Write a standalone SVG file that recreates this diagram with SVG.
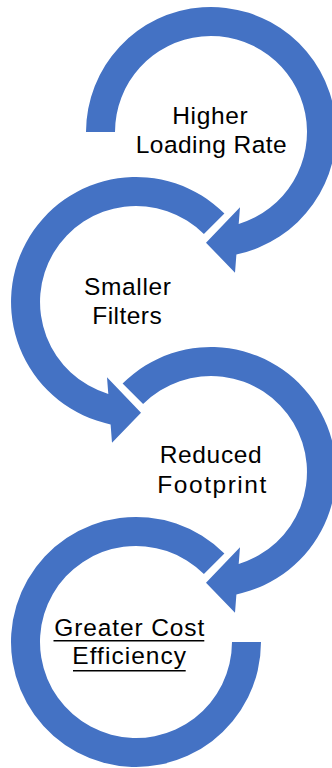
<svg xmlns="http://www.w3.org/2000/svg" width="332" height="768" viewBox="0 0 332 768">
<style>
.arrow{fill:#4472C4;stroke:none}
.lbl{font-family:"Liberation Sans",Arial,sans-serif;font-size:24.5px;fill:#000;text-anchor:middle}
.ul{stroke:#000;stroke-width:1.6;fill:none}
</style>
<rect width="332" height="768" fill="#fff"/>
<g id="node1">
<path class="arrow" d="M86,132 A125,125 0 1 1 236.4,254.4 L235,272.7 L206,242.7 L240,207.3 L238.7,223.9 A96,96 0 1 0 115,132 Z"/>
<text class="lbl" x="210" y="124.3" textLength="75.5" lengthAdjust="spacing">Higher</text>
<text class="lbl" x="211.2" y="153.3" textLength="151" lengthAdjust="spacing">Loading Rate</text>
</g>
<g id="node2">
<path class="arrow" d="M224.4,213.6 A125,125 0 1 0 110.6,424.4 L112,442.7 L141,412.7 L107,377.3 L108.3,393.9 A96,96 0 1 1 203.9,234.1 Z"/>
<text class="lbl" x="127.5" y="295" textLength="87" lengthAdjust="spacing">Smaller</text>
<text class="lbl" x="127" y="324.3" textLength="69.4" lengthAdjust="spacing">Filters</text>
</g>
<g id="node3">
<path class="arrow" d="M122.6,383.6 A125,125 0 1 1 236.4,594.4 L235,612.7 L206,582.7 L240,547.3 L238.7,563.9 A96,96 0 1 0 143.1,404.1 Z"/>
<text class="lbl" x="210.7" y="463.3" textLength="102" lengthAdjust="spacing">Reduced</text>
<text class="lbl" x="211.8" y="492.7" textLength="109" lengthAdjust="spacing">Footprint</text>
</g>
<g id="node4">
<path class="arrow" d="M224.4,553.6 A125,125 0 1 0 261,642 L232,642 A96,96 0 1 1 203.9,574.1 Z"/>
<text class="lbl" x="129.2" y="636" textLength="150" lengthAdjust="spacing">Greater Cost</text>
<text class="lbl" x="129.2" y="664.3" textLength="113.7" lengthAdjust="spacing">Efficiency</text>
<line class="ul" x1="53.5" y1="640.8" x2="204.3" y2="640.8"/>
<line class="ul" x1="73" y1="670.8" x2="185.7" y2="670.8"/>
</g>
<g id="connectors"></g>
</svg>
